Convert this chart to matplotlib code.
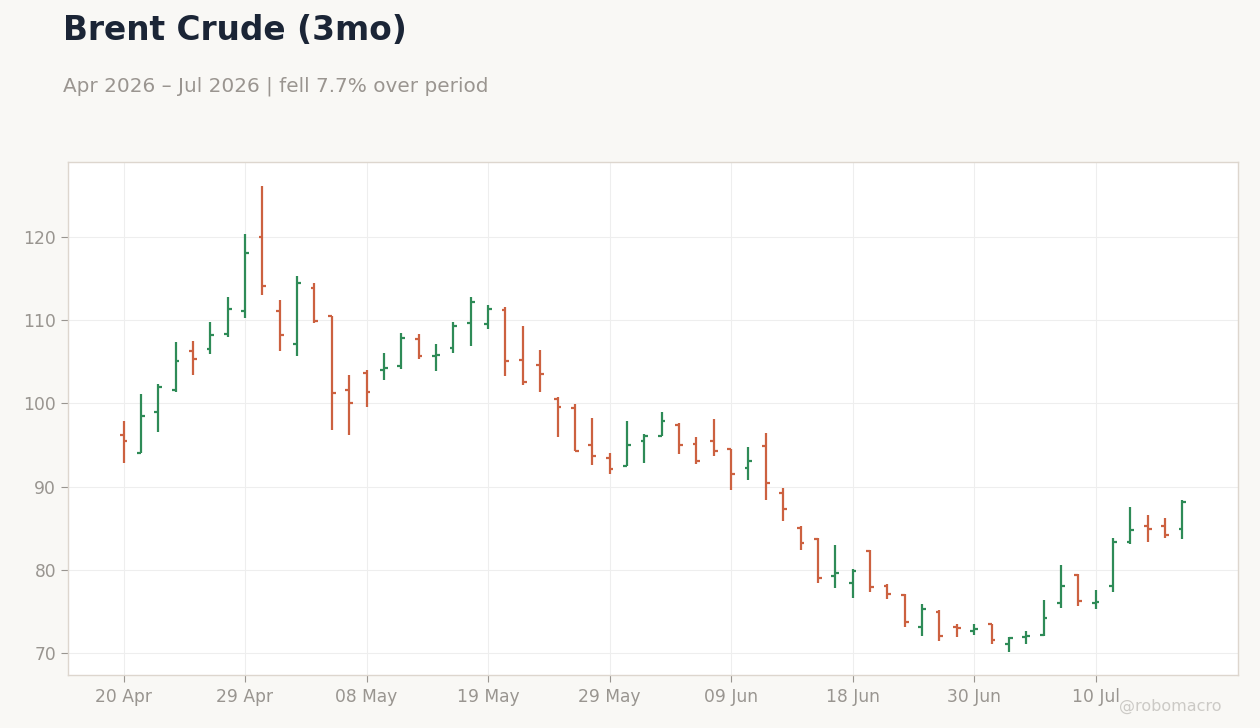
import matplotlib
matplotlib.use("Agg")
import matplotlib.pyplot as plt
import numpy as np
import pandas as pd

# ---- data ----
holidays = ["2026-05-25", "2026-06-19", "2026-07-03"]
dates = [d for d in pd.bdate_range("2026-04-20", "2026-07-17") if d.strftime("%Y-%m-%d") not in holidays]

opens = [96.24, 94.08, 99.0, 101.65, 106.33, 106.57, 108.38, 111.14, 120.04, 111.14,
         107.17, 113.9, 110.54, 101.65, 103.65, 104.05, 104.5, 107.78, 105.73, 106.69,
         109.7, 109.58, 111.26, 105.25, 104.65, 100.57, 99.48, 95.0, 93.47, 92.51,
         95.52, 96.12, 97.44, 95.16, 95.52, 94.47, 92.27, 94.92, 89.27, 85.06,
         83.66, 79.29, 78.45, 82.3, 78.09, 77.01, 73.16, 74.96, 73.16, 72.68,
         73.45, 71.12, 71.96, 72.2, 76.05, 79.41, 76.0, 78.09, 83.38, 85.3,
         85.3, 84.94]
highs = [97.9, 101.13, 102.33, 107.38, 107.5, 109.78, 112.79, 120.36, 126.13, 112.43,
         115.31, 114.47, 110.54, 103.37, 103.97, 106.06, 108.46, 108.34, 107.14, 109.78,
         112.79, 111.83, 111.59, 109.3, 106.42, 100.71, 99.93, 98.25, 94.04, 97.88,
         96.32, 98.99, 97.64, 96.0, 98.13, 94.47, 94.76, 96.44, 89.83, 85.26,
         83.82, 82.98, 80.1, 82.38, 78.29, 77.09, 75.89, 75.13, 73.45, 73.49,
         73.53, 71.96, 72.6, 76.37, 80.58, 79.5, 77.57, 83.82, 87.55, 86.59,
         86.23, 88.39]
lows = [92.87, 94.08, 96.6, 101.4, 103.45, 105.97, 108.02, 110.3, 113.07, 106.33,
        105.73, 109.7, 96.84, 96.16, 99.6, 102.85, 104.17, 105.37, 103.93, 106.1,
        106.93, 108.98, 103.33, 102.25, 101.41, 95.99, 94.28, 92.63, 91.55, 92.43,
        92.87, 96.12, 93.95, 92.75, 93.71, 89.63, 90.83, 88.43, 85.9, 82.42,
        78.45, 77.85, 76.65, 77.37, 76.53, 73.16, 72.08, 71.48, 71.96, 72.2,
        71.12, 70.16, 71.12, 72.08, 75.44, 75.68, 75.32, 77.37, 83.14, 83.38,
        83.86, 83.74]
closes = [95.52, 98.52, 102.0, 105.13, 105.37, 108.26, 111.38, 118.11, 114.15, 108.26,
          114.51, 109.94, 101.29, 100.09, 101.41, 104.29, 107.9, 105.73, 105.85, 109.34,
          112.19, 111.38, 105.13, 102.61, 103.57, 99.6, 94.28, 93.71, 92.15, 95.0,
          96.12, 97.92, 95.0, 93.11, 94.32, 91.55, 93.11, 90.47, 87.31, 83.26,
          79.05, 79.65, 79.89, 77.97, 77.13, 73.76, 75.32, 72.08, 73.05, 72.92,
          71.6, 71.84, 72.08, 74.24, 78.09, 76.29, 76.1, 83.38, 84.82, 84.94,
          84.22, 88.19]
yticks = [70, 80, 90, 100, 110, 120]
title = "Brent Crude (3mo)"
subtitle = "Apr 2026 \u2013 Jul 2026 | fell 7.7% over period"

# ---- style ----
BG = "#f9f8f5"
UP = "#2e8b57"
DOWN = "#cc6140"
TXT = "#999590"

plt.rcParams['font.family'] = ['DejaVu Sans']
fig = plt.figure(figsize=(12.6, 7.28), dpi=100, facecolor=BG)
ax = fig.add_axes([68/1260, 1-675/728, (1238-68)/1260, (675-162)/728])
ax.set_facecolor("white")

x = np.arange(len(dates))
o = np.array(opens); h = np.array(highs); l = np.array(lows); c = np.array(closes)
cols = [UP if cc >= oo else DOWN for oo, cc in zip(o, c)]
tw = 0.22
ax.vlines(x, l, h, colors=cols, linewidth=1.6, zorder=3)
ax.hlines(o, x - tw, x, colors=cols, linewidth=1.6, zorder=3)
ax.hlines(c, x, x + tw, colors=cols, linewidth=1.6, zorder=3)

ax.set_xlim(-3.2, len(dates) - 1 + 3.2)
ax.set_ylim(67.35, 129.0)
tick_idx = list(range(0, len(dates), 7))
ax.set_xticks(tick_idx)
ax.set_xticklabels([dates[i].strftime("%d %b") for i in tick_idx])
ax.set_yticks(yticks)
ax.grid(True, color="#eeeeee", linewidth=0.8, zorder=0)
ax.set_axisbelow(True)
for s in ax.spines.values():
    s.set_color("#ddd6ce")
    s.set_linewidth(1.0)
ax.tick_params(axis="both", colors="#999590", labelcolor=TXT, labelsize=12.3, length=5, width=0.8)
ax.tick_params(axis="x", pad=4.5)

fig.text(63/1260, 1-40/728, title, fontsize=23.6, fontweight="bold", color="#1b2536", ha="left", va="baseline")
fig.text(63/1260, 1-92/728, subtitle, fontsize=14.4, color="#9a9590", ha="left", va="baseline")
fig.text(1222/1260, 1-711/728, "@robomacro", fontsize=11.5, color="#cccac6", ha="right", va="baseline")

fig.savefig("out.png", dpi=100, facecolor=BG)
